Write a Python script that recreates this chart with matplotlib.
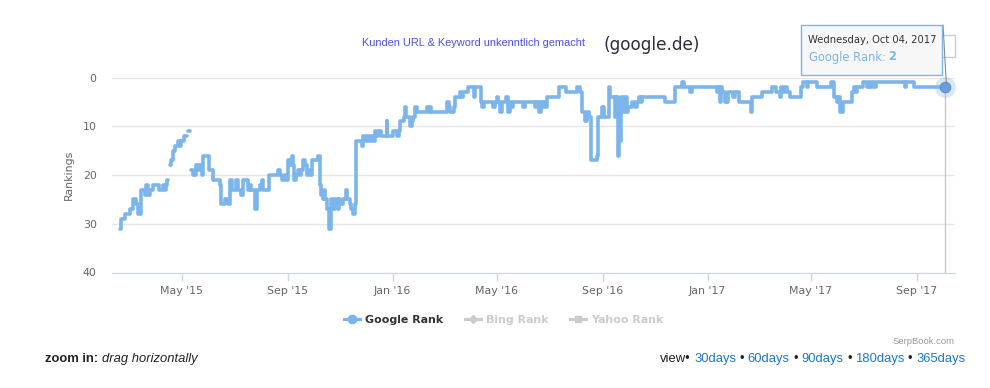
import numpy as np
import pandas as pd
import matplotlib
matplotlib.use("Agg")
import matplotlib.pyplot as plt
import matplotlib.dates as mdates
from matplotlib.lines import Line2D
from matplotlib.patches import FancyBboxPatch, Rectangle

nan = np.nan

# daily google rank (day = days since start)
start = "2015-02-18"
day = [0, 2, 4, 6, 10, 12, 15, 17, 19, 21, 24, 25, 27, 29, 31, 33, 35, 39, 44, 46,
       48, 50, 52, 54, 55, 56,
       58, 60, 62, 64, 66, 68, 70, 71, 73, 75, 77, 78,
       79, 82,
       83, 85, 89, 91, 93, 95, 97, 101, 103, 104, 106, 108, 114, 116, 118, 122, 126,
       128, 130, 133, 135, 137, 141, 143, 147, 149, 151, 153, 155, 157, 159, 161,
       163, 165, 167, 169, 171, 173, 174, 184, 186, 188, 190, 192, 194, 196, 198,
       200, 201, 203, 205, 207, 209, 211, 213, 215, 217, 219, 221, 223, 227, 230,
       232, 233, 234, 236, 237, 239, 241, 243, 245, 246, 248, 250, 251, 253, 255,
       256, 259, 260, 263, 264, 266, 267, 269, 271, 273, 274, 276, 279, 281, 283,
       285, 287, 290, 292, 294, 296, 298, 300, 304, 306, 308, 310, 311, 313, 316,
       317, 319, 320, 322, 324, 326, 328, 330, 331, 333, 335, 337, 339, 341, 343,
       345, 347, 349, 351, 357, 359, 360, 362, 380, 382, 384, 388, 389, 391, 393,
       395, 397, 399, 401, 404, 407, 411, 412, 413, 417, 420, 421, 423, 432, 434,
       436, 438, 440, 442, 444, 449, 451, 453, 455, 457, 459, 469, 471, 482, 484,
       485, 487, 489, 490, 492, 494, 496, 498, 508, 510, 512, 518, 519, 529, 531,
       535, 537, 539, 541, 543, 545, 547, 548, 554, 555, 556, 558, 560, 562, 564,
       566, 568, 570, 572, 574, 575, 576, 577, 578, 579, 580, 581, 582, 585, 587,
       589, 591, 593, 595, 597, 599, 601, 603, 605, 607, 608, 612, 632, 634, 643,
       645, 649, 653, 655, 663, 665, 692, 694, 695, 697, 698, 700, 701, 703, 704,
       706, 707, 709, 713, 715, 717, 719, 731, 733, 734, 746, 758, 762, 767, 768,
       771, 773, 775, 779, 791, 792, 794, 798, 800, 810, 826, 830, 833, 835, 837,
       840, 849, 851, 853, 855, 857, 864, 868, 870, 872, 874, 876, 878, 912, 914,
       923, 959]
rank = [31, 29, 29, 28, 28, 27, 25, 25, 26, 28, 28, 23, 23, 24, 22, 24, 23, 22, 22, 23,
        23, 22, 23, 22, 21, nan,
        18, 17, 15, 14, 14, 13, 14, 13, 13, 12, 12, nan,
        11, nan,
        19, 20, 18, 19, 18, 20, 16, 16, 16, 19, 19, 21, 21, 22, 26, 25, 26,
        21, 23, 23, 21, 23, 24, 21, 21, 23, 22, 23, 23, 27, 23, 23,
        22, 21, 23, 23, 23, 20, 20, 19, 20, 21, 21, 20, 21, 17, 18,
        16, 18, 21, 20, 19, 20, 19, 17, 18, 20, 19, 20, 17, 17, 16,
        16, 22, 24, 25, 23, 25, 27, 31, 26, 25, 27, 25, 25, 27, 25,
        26, 25, 25, 23, 25, 25, 26, 27, 28, 26, 13, 13, 13, 14, 12,
        13, 12, 13, 12, 13, 11, 12, 11, 12, 12, 12, 9, 12, 12, 12,
        11, 11, 11, 12, 11, 9, 9, 8, 6, 8, 8, 10, 9, 8, 6,
        7, 7, 7, 7, 6, 7, 6, 7, 5, 6, 7, 6, 4, 4, 4,
        3, 4, 3, 3, 2, 2, 2, 4, 2, 2, 5, 6, 5, 5, 6,
        5, 4, 5, 7, 5, 4, 7, 5, 6, 5, 5, 6, 5, 6, 5,
        5, 7, 5, 6, 5, 6, 4, 4, 4, 2, 2, 2, 3, 3, 2,
        3, 7, 7, 9, 7, 8, 15, 17, 17, 16, 8, 8, 6, 8, 8,
        8, 2, 4, 4, 4, 8, 4, 7, 4, 16, 5, 13, 4, 7, 4,
        7, 6, 6, 5, 5, 6, 5, 4, 5, 4, 4, 4, 4, 5, 5,
        2, 2, 1, 2, 3, 2, 2, 3, 2, 5, 2, 3, 3, 5, 4,
        5, 3, 3, 4, 3, 3, 5, 5, 7, 4, 3, 2, 3, 4, 2,
        3, 2, 3, 4, 3, 2, 1, 2, 1, 2, 1, 4, 5, 4, 7,
        5, 5, 3, 2, 3, 2, 1, 2, 1, 2, 1, 2, 1, 2, 1,
        2, 2]

legend_labels = ["Google Rank", "Bing Rank", "Yahoo Rank"]
view_links = ["30days", "60days", "90days", "180days", "365days"]

dates = pd.Timestamp(start) + pd.to_timedelta(day, unit="D")

W, H = 990, 388


def fx(x):
    return x / W


def fy(y):
    return 1 - y / H


blue = "#7cb5ec"
fig = plt.figure(figsize=(W / 100, H / 100), dpi=100)
ax = fig.add_axes([fx(112), fy(272.5), (954.7 - 112) / W, (272.5 - 77.5) / H])

ax.plot(dates, rank, color=blue, lw=2.6, drawstyle="steps-post",
        solid_joinstyle="round", solid_capstyle="round", clip_on=False, zorder=3)

# hovered point
end_d, end_r = dates[-1], rank[-1]
ax.plot([end_d, end_d], [end_r, 40], color="#c8c8c8", lw=1, zorder=2)
ax.plot(end_d, end_r, "o", ms=15, color=blue, alpha=0.3, mec="none", zorder=4, clip_on=False)
ax.plot(end_d, end_r, "o", ms=7.5, color="#6a9fdc", mec="#5a8fcc", mew=0.8, zorder=5, clip_on=False)

ax.set_xlim(pd.Timestamp(start) - pd.Timedelta(days=9), pd.Timestamp(start) + pd.Timedelta(days=970))
ax.set_ylim(40, 0)
ax.set_yticks([0, 10, 20, 30, 40])
ax.xaxis.set_major_locator(mdates.MonthLocator(bymonth=[1, 5, 9]))
ax.xaxis.set_major_formatter(mdates.DateFormatter("%b '%y"))

ax.yaxis.grid(True, color="#e6e6e6", lw=1)
ax.set_axisbelow(True)
for s in ["top", "left", "right"]:
    ax.spines[s].set_visible(False)
ax.spines["bottom"].set_color("#ccd6eb")
ax.tick_params(axis="y", length=0, pad=11, labelsize=7.9, labelcolor="#666666")
ax.tick_params(axis="x", length=5.8, width=1, color="#ccd6eb", pad=4,
               labelsize=7.9, labelcolor="#666666")
ax.set_ylabel("Rankings", color="#666666", fontsize=7.9)
ax.yaxis.set_label_coords(-0.045, 0.5)

# titles
fig.text(fx(473.5), fy(43), "Kunden URL & Keyword unkenntlich gemacht", ha="center", va="center",
         fontsize=7.9, color="#4f4fe6", family="Liberation Sans")
fig.text(fx(651.5), fy(45), "(google.de)", ha="center", va="center", fontsize=12.2, color="#2d2d3f")

# export button + tooltip
fig.add_artist(Rectangle((fx(932), fy(57)), 23 / W, 22 / H, transform=fig.transFigure,
                         fc="white", ec="#cccccc", lw=1, zorder=8))
fig.add_artist(Line2D([fx(943), fx(946.3)], [fy(25), fy(83)], transform=fig.transFigure,
                      color="#8a8a8a", lw=0.8, zorder=9))
fig.add_artist(FancyBboxPatch((fx(802), fy(76)), 141 / W, 50 / H, transform=fig.transFigure,
                              boxstyle="square,pad=0", fc="#000000", ec="none", alpha=0.08, zorder=9))
fig.add_artist(FancyBboxPatch((fx(801), fy(75)), 141 / W, 50 / H, transform=fig.transFigure,
                              boxstyle="square,pad=0", fc="#f7f7f7", ec=blue, lw=1, zorder=10))
fig.text(fx(808), fy(40), "Wednesday, Oct 04, 2017", ha="left", va="center", fontsize=7.2,
         color="#333333", zorder=11)
fig.text(fx(809), fy(57), "Google Rank: ", ha="left", va="center", fontsize=8.3, color=blue, zorder=11)
fig.text(fx(888), fy(57), "2", ha="left", va="center", fontsize=8.3, color=blue,
         fontweight="bold", zorder=11)

# legend
handles = [
    Line2D([], [], color=blue, lw=2.3, marker="o", ms=6),
    Line2D([], [], color="#cccccc", lw=2.3, marker="D", ms=4.5),
    Line2D([], [], color="#cccccc", lw=2.3, marker="s", ms=5),
]
fig.legend(handles, legend_labels, loc="center",
           bbox_to_anchor=(fx(503.5), fy(320)), ncol=3, frameon=False,
           handlelength=1.45, handletextpad=0.45, columnspacing=2.0,
           prop={"weight": "bold", "size": 7.9},
           labelcolor=["#333333", "#cccccc", "#cccccc"])

# footer
fs = 9.36
fig.text(fx(955), fy(342), "SerpBook.com", ha="right", va="center", fontsize=6.8,
         color="#999999", family="Liberation Sans")
fig.text(fx(45), fy(359), "zoom in:", ha="left", va="center", fontsize=fs,
         fontweight="bold", color="#222222", family="Liberation Sans")
fig.text(fx(102), fy(359), "drag horizontally", ha="left", va="center", fontsize=fs,
         style="italic", color="#222222", family="Liberation Sans")

link = "#1f78c8"
fig.text(fx(660), fy(359), "view\u2022", ha="left", va="center", fontsize=fs,
         color="#222222", family="Liberation Sans")
link_x = [694.2, 747.8, 801.5, 855.2, 916.1]
dot_x = [742, 795.6, 849.3, 910.2]
for lk, x in zip(view_links, link_x):
    fig.text(fx(x), fy(359), lk, ha="left", va="center", fontsize=fs, color=link,
             family="Liberation Sans")
for x in dot_x:
    fig.text(fx(x), fy(359), "\u2022", ha="center", va="center", fontsize=fs,
             color="#222222", family="Liberation Sans")

fig.savefig("out.png", dpi=100)
